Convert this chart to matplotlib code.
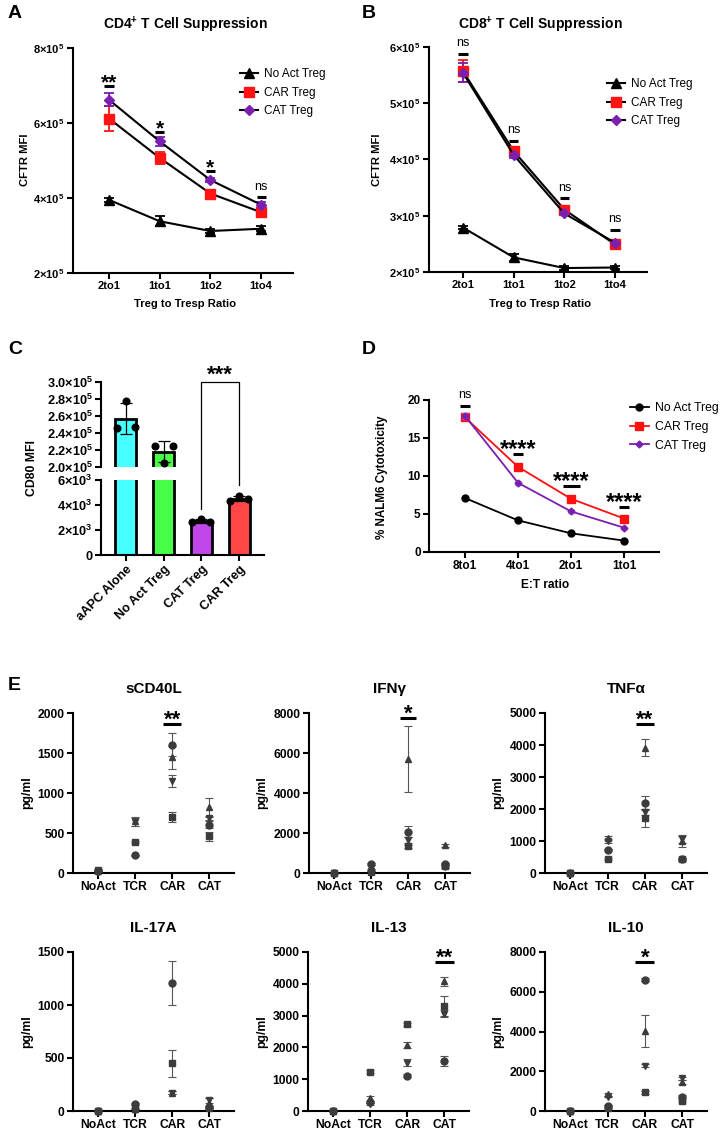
#!/usr/bin/env python3
"""Treg suppression, CD80, cytotoxicity and cytokine panels (A-E)."""

import matplotlib
matplotlib.use("Agg")
import matplotlib.pyplot as plt
import numpy as np

plt.rcParams["font.family"] = ["Liberation Sans", "DejaVu Sans"]
plt.rcParams["font.weight"] = "bold"
plt.rcParams["mathtext.fontset"] = "custom"
plt.rcParams["mathtext.rm"] = "Liberation Sans:bold"
plt.rcParams["mathtext.bf"] = "Liberation Sans:bold"
plt.rcParams["mathtext.it"] = "Liberation Sans:bold"
plt.rcParams["mathtext.default"] = "bf"

# ---------------- data ----------------
RATIOS = ["2to1", "1to1", "1to2", "1to4"]
SERIES_LABELS = ["No Act Treg", "CAR Treg", "CAT Treg"]

A_NOACT = [3.95e5, 3.38e5, 3.12e5, 3.18e5]
A_NOACT_ERR = [0.05e5, 0.13e5, 0.06e5, 0.07e5]
A_CAR = [6.12e5, 5.07e5, 4.12e5, 3.62e5]
A_CAR_ERR = [0.34e5, 0.15e5, 0.08e5, 0.12e5]
A_CAT = [6.62e5, 5.51e5, 4.48e5, 3.82e5]
A_CAT_ERR = [0.17e5, 0.12e5, 0.05e5, 0.08e5]
A_SIG = ["**", "*", "*", "ns"]
A_SIG_Y = [6.98e5, 5.75e5, 4.72e5, 4.02e5]

B_NOACT = [2.79e5, 2.26e5, 2.07e5, 2.08e5]
B_NOACT_ERR = [0.03e5, 0.06e5, 0.03e5, 0.03e5]
B_CAR = [5.57e5, 4.15e5, 3.11e5, 2.49e5]
B_CAR_ERR = [0.20e5, 0.05e5, 0.04e5, 0.04e5]
B_CAT = [5.54e5, 4.08e5, 3.04e5, 2.52e5]
B_CAT_ERR = [0.17e5, 0.05e5, 0.03e5, 0.03e5]
B_SIG = ["ns", "ns", "ns", "ns"]
B_SIG_Y = [5.88e5, 4.33e5, 3.31e5, 2.75e5]

C_LABELS = ["aAPC Alone", "No Act Treg", "CAT Treg", "CAR Treg"]
C_MEANS = [2.57e5, 2.18e5, 2.72e3, 4.52e3]
C_SD = [0.18e5, 0.125e5, 0.16e3, 0.18e3]
C_POINTS = [[2.46e5, 2.78e5, 2.465e5],
            [2.25e5, 2.05e5, 2.25e5],
            [2.62e3, 2.90e3, 2.62e3],
            [4.36e3, 4.73e3, 4.52e3]]
C_COLORS = ["#46FFFF", "#47FF47", "#C146E8", "#FF4646"]

ET_RATIOS = ["8to1", "4to1", "2to1", "1to1"]
D_NOACT = [7.1, 4.16, 2.46, 1.5]
D_CAR = [17.7, 11.2, 7.0, 4.4]
D_CAR_ERR = [0.3, 0.3, 0.2, 0.2]
D_CAT = [17.9, 9.1, 5.34, 3.2]
D_CAT_ERR = [0.4, 0.3, 0.2, 0.15]
D_SIG = ["ns", "****", "****", "****"]
D_SIG_Y = [19.2, 12.9, 8.75, 5.87]

E_GROUPS = ["NoAct", "TCR", "CAR", "CAT"]
# rows: donor circle, square, triangle-up, triangle-down; cols: E_GROUPS
SCD40L = [[20, 221, 1604, 604], [40, 387, 700, 458], [30, 646, 1446, 821], [15, 636, 1146, 688]]
SCD40L_ERR = [[5, 10, 145, 40], [5, 15, 60, 60], [5, 60, 145, 115], [5, 50, 75, 30]]
IFNG = [[10, 460, 2060, 470], [10, 60, 1330, 340], [15, 150, 5690, 1390], [5, 120, 1650, 300]]
IFNG_ERR = [[5, 40, 280, 50], [5, 10, 60, 40], [5, 30, 1640, 80], [3, 20, 150, 30]]
TNFA = [[10, 710, 2200, 450], [10, 430, 1705, 430], [15, 1100, 3920, 1000], [5, 1000, 1900, 1050]]
TNFA_ERR = [[5, 30, 200, 30], [5, 30, 280, 40], [5, 60, 270, 180], [3, 50, 80, 120]]
IL17A = [[2, 66, 1208, 40], [3, 20, 449, 25], [2, 15, 173, 80], [1, 8, 173, 100]]
IL17A_ERR = [[1, 10, 210, 10], [1, 5, 125, 8], [1, 5, 17, 40], [1, 3, 17, 20]]
IL13 = [[10, 293, 1109, 1569], [15, 1234, 2730, 3295], [8, 397, 2071, 4080], [5, 220, 1517, 3065]]
IL13_ERR = [[5, 30, 40, 157], [5, 40, 50, 310], [4, 75, 104, 135], [3, 30, 105, 105]]
IL10 = [[10, 250, 6612, 720], [15, 134, 937, 500], [8, 837, 4018, 1470], [5, 720, 2277, 1640]]
IL10_ERR = [[5, 40, 70, 60], [5, 30, 60, 40], [4, 83, 795, 100], [3, 40, 70, 80]]

W, H = 720, 1136
fig = plt.figure(figsize=(W / 100, H / 100), dpi=100)


def px_axes(x0, y0, x1, y1):
    return fig.add_axes([x0 / W, 1 - y1 / H, (x1 - x0) / W, (y1 - y0) / H])


def ftext(x, y, s, **kw):
    kw.setdefault("ha", "center")
    kw.setdefault("va", "center")
    fig.text(x / W, 1 - y / H, s, **kw)


def style(ax, fs):
    for s in ("top", "right"):
        ax.spines[s].set_visible(False)
    for s in ("left", "bottom"):
        ax.spines[s].set_linewidth(1.5)
    ax.tick_params(width=1.5, length=4, labelsize=fs, pad=2)


def sig(ax, x, y, w, label, star_fs=15, ns_fs=9):
    ax.plot([x - w / 2, x + w / 2], [y, y], color="black", lw=2.2,
            solid_capstyle="butt", clip_on=False)
    if label == "ns":
        ax.annotate("ns", (x, y), xytext=(0, 5.5), textcoords="offset points",
                    ha="center", va="baseline", fontsize=ns_fs,
                    fontweight="normal", annotation_clip=False)
    else:
        ax.annotate(label, (x, y), xytext=(0, -1.5), textcoords="offset points",
                    ha="center", va="baseline", fontsize=star_fs,
                    fontweight="bold", annotation_clip=False)


def sci(v, e):
    return f"{v}×$10^{{{e}}}$"


# ---------------- A / B ----------------
def suppression_panel(rect, noact, noact_err, car, car_err, cat, cat_err,
                      sig_labels, sig_y, ylim, yticks, ylabels, leg_anchor, xlim):
    ax = px_axes(*rect)
    x = np.arange(len(RATIOS))
    specs = [(noact, noact_err, "black", "^", 7.5),
             (car, car_err, "#FF1414", "s", 7.5),
             (cat, cat_err, "#7A1FB0", "D", 5.5)]
    for (vals, errs, col, mk, ms), lab in zip(specs, SERIES_LABELS):
        ax.errorbar(x, vals, yerr=errs, fmt="none", ecolor=col, elinewidth=1.3,
                    capsize=3.5, capthick=1.3, zorder=2)
        ax.plot(x, vals, "-", color="black", lw=1.5, marker=mk, ms=ms,
                mfc=col, mec=col, label=lab, zorder=3)
    for i, (lab, y) in enumerate(zip(sig_labels, sig_y)):
        sig(ax, i, y, 0.18, lab)
    ax.set_xlim(*xlim)
    ax.set_ylim(*ylim)
    ax.set_xticks(x, RATIOS)
    ax.set_yticks(yticks, ylabels)
    style(ax, 8.0)
    ax.legend(loc="upper left", bbox_to_anchor=leg_anchor, frameon=False,
              borderaxespad=0, borderpad=0, handlelength=1.5, handletextpad=0.5,
              labelspacing=0.55, prop={"size": 8.5, "weight": "normal"})
    return ax


suppression_panel((73, 48, 293, 273), A_NOACT, A_NOACT_ERR, A_CAR, A_CAR_ERR,
                  A_CAT, A_CAT_ERR, A_SIG, A_SIG_Y, (2e5, 8e5),
                  [2e5, 4e5, 6e5, 8e5], [sci(v, 5) for v in (2, 4, 6, 8)],
                  (0.76, 0.91), (-0.71, 3.63))
suppression_panel((429, 47, 647, 272), B_NOACT, B_NOACT_ERR, B_CAR, B_CAR_ERR,
                  B_CAT, B_CAT_ERR, B_SIG, B_SIG_Y, (2e5, 6e5),
                  [2e5, 3e5, 4e5, 5e5, 6e5], [sci(v, 5) for v in (2, 3, 4, 5, 6)],
                  (0.817, 0.86), (-0.67, 3.63))

ftext(8, 13, "A", fontsize=14, ha="left")
ftext(362, 13, "B", fontsize=14, ha="left")
ftext(185, 25, "CD4$^{+}$ T Cell Suppression", fontsize=10)
ftext(540, 25, "CD8$^{+}$ T Cell Suppression", fontsize=10)
ftext(185, 304, "Treg to Tresp Ratio", fontsize=8.1)
ftext(540, 304, "Treg to Tresp Ratio", fontsize=8.1)
ftext(25, 160, "CFTR MFI", fontsize=8.1, rotation=90)
ftext(377, 160, "CFTR MFI", fontsize=8.1, rotation=90)

# ---------------- C (broken axis) ----------------
ax_top = px_axes(101, 382, 264, 467)
ax_bot = px_axes(101, 480, 264, 555)
xc = np.arange(len(C_LABELS))
jitter = [-0.24, 0.0, 0.24]
for ax in (ax_top, ax_bot):
    ax.bar(xc, C_MEANS, width=0.56, color=C_COLORS, edgecolor="black", linewidth=2.0)
    ax.errorbar(xc, C_MEANS, yerr=C_SD, fmt="none", ecolor="black", elinewidth=0.9,
                capsize=4, capthick=0.9)
    for i, pts in enumerate(C_POINTS):
        ax.plot(np.array(jitter) + xc[i], pts, "o", color="black", ms=4.8, zorder=4)
    ax.set_xlim(-0.66, 3.66)
    style(ax, 9.2)

ax_top.set_ylim(2.0e5, 3.0e5)
ax_top.set_yticks(np.linspace(2.0e5, 3.0e5, 6),
                  [sci(f"{v:.1f}", 5) for v in np.linspace(2.0, 3.0, 6)])
ax_top.spines["bottom"].set_visible(False)
ax_top.set_xticks([])
ax_bot.set_ylim(0, 6e3)
ax_bot.set_yticks([0, 2e3, 4e3, 6e3], ["0", sci(2, 3), sci(4, 3), sci(6, 3)])
ax_bot.set_xticks(xc, C_LABELS, rotation=45, ha="right", rotation_mode="anchor",
                  fontsize=9.2)

# bracket CAT vs CAR across the break
ax_top.plot([2, 2, 3, 3], [1.8e5, 3.0e5, 3.0e5, 1.8e5], color="black", lw=0.9,
            clip_on=False)
ax_bot.plot([2, 2], [C_MEANS[2] + 1.0e3, 6e3], color="black", lw=0.9, clip_on=False)
ax_bot.plot([3, 3], [C_MEANS[3] + 1.1e3, 6e3], color="black", lw=0.9, clip_on=False)
ax_top.annotate("***", (2.5, 3.0e5), xytext=(0, 1), textcoords="offset points",
                ha="center", va="baseline", fontsize=16, annotation_clip=False)

ftext(8, 350, "C", fontsize=14, ha="left")
ftext(32, 468, "CD80 MFI", fontsize=8.8, rotation=90)

# ---------------- D ----------------
axd = px_axes(429, 400, 659, 552)
xd = np.arange(len(ET_RATIOS))
axd.plot(xd, D_NOACT, "-", color="black", lw=1.3, marker="o", ms=5, label="No Act Treg")
axd.errorbar(xd, D_CAR, yerr=D_CAR_ERR, fmt="none", ecolor="#FF6060", elinewidth=1,
             capsize=2.5)
axd.plot(xd, D_CAR, "-", color="#FF1010", lw=1.3, marker="s", ms=5.5, label="CAR Treg")
axd.errorbar(xd, D_CAT, yerr=D_CAT_ERR, fmt="none", ecolor="#A060C8", elinewidth=1,
             capsize=2.5)
axd.plot(xd, D_CAT, "-", color="#7A1FB0", lw=1.3, marker="D", ms=3.5, label="CAT Treg")
for i, (lab, y, w) in enumerate(zip(D_SIG, D_SIG_Y, [0.18, 0.2, 0.32, 0.18])):
    sig(axd, i, y, w, lab, star_fs=17)
axd.set_xlim(-0.68, 3.66)
axd.set_ylim(0, 20)
axd.set_xticks(xd, ET_RATIOS)
axd.set_yticks([0, 5, 10, 15, 20])
style(axd, 8.5)
axd.legend(loc="upper left", bbox_to_anchor=(0.875, 0.985), frameon=False,
           borderaxespad=0, borderpad=0, handlelength=1.5, handletextpad=0.5,
           labelspacing=0.55, prop={"size": 8.8, "weight": "normal"})

ftext(362, 350, "D", fontsize=14, ha="left")
ftext(382, 477, "% NALM6 Cytotoxicity", fontsize=8.4, rotation=90)
ftext(545, 585, "E:T ratio", fontsize=8.6)

# ---------------- E ----------------
DONOR_MARKERS = ["o", "s", "^", "v"]
cyto_panels = [
    ("sCD40L", SCD40L, SCD40L_ERR, (73, 713, 234, 873), 2000, 500, 27, (2, 1862, 0.5, "**")),
    ("IFNγ", IFNG, IFNG_ERR, (309, 713, 470, 873), 8000, 2000, 262, (2, 7750, 0.43, "*")),
    ("TNFα", TNFA, TNFA_ERR, (545, 713, 707, 873), 5000, 1000, 498, (2, 4656, 0.48, "**")),
    ("IL-17A", IL17A, IL17A_ERR, (73, 952, 234, 1111), 1500, 500, 27, None),
    ("IL-13", IL13, IL13_ERR, (308, 952, 469, 1111), 5000, 1000, 262, (3, 4686, 0.51, "**")),
    ("IL-10", IL10, IL10_ERR, (545, 952, 707, 1111), 8000, 2000, 498, (2, 7497, 0.51, "*")),
]
xe = np.arange(len(E_GROUPS))
for name, vals, errs, rect, ytop, ystep, ylab_x, stat in cyto_panels:
    ax = px_axes(*rect)
    for mk, v, e in zip(DONOR_MARKERS, vals, errs):
        ax.errorbar(xe, v, yerr=e, fmt="none", ecolor="#555555", elinewidth=0.8,
                    capsize=3, capthick=0.8, clip_on=False)
        ax.plot(xe, v, mk, color="#3C3C3C", ms=5, clip_on=False, zorder=3)
    if stat is not None:
        sx, sy, sw, slab = stat
        sig(ax, sx, sy, sw, slab, star_fs=16)
    ax.set_xlim(-0.68, 3.67)
    ax.set_ylim(0, ytop)
    ax.set_yticks(np.arange(0, ytop + 1, ystep))
    ax.set_xticks(xe, E_GROUPS)
    style(ax, 8.7)
    x0, y0, x1, y1 = rect
    ftext((x0 + x1) / 2, y0 - 24, name, fontsize=11)
    ftext(ylab_x, (y0 + y1) / 2, "pg/ml", fontsize=8.8, rotation=90)

ftext(8, 685, "E", fontsize=14, ha="left")

fig.savefig("out.png", dpi=100)
